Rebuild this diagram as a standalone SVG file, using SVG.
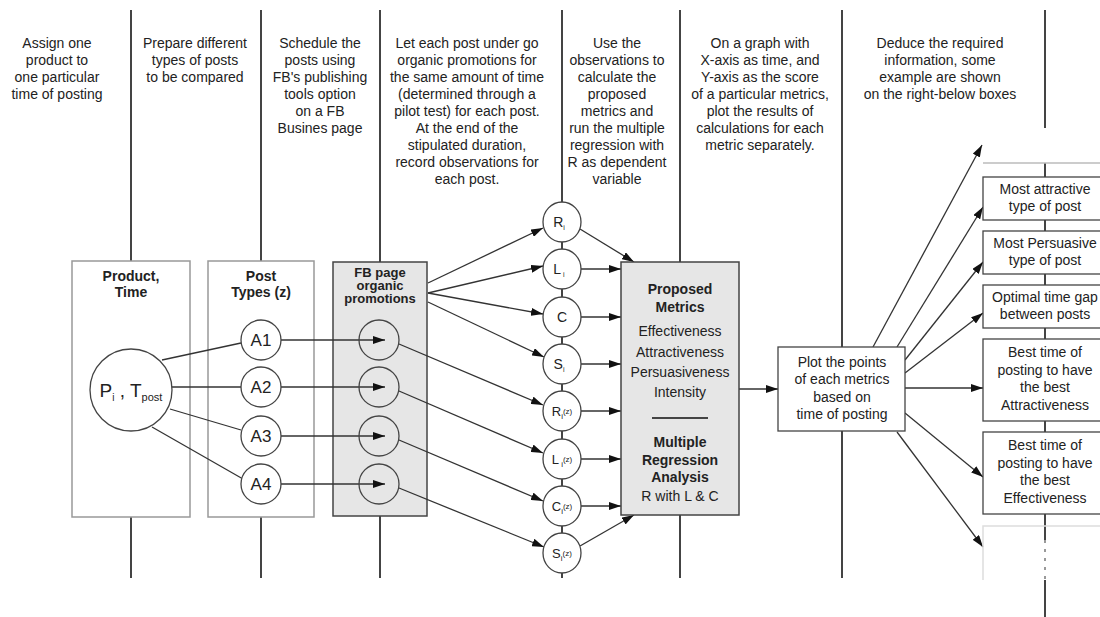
<svg xmlns="http://www.w3.org/2000/svg" width="1100" height="617" viewBox="0 0 1100 617">
<defs>
<marker id="ah" viewBox="0 0 12 8" refX="12" refY="4" markerWidth="12" markerHeight="8" markerUnits="userSpaceOnUse" orient="auto">
<path d="M0,0 L12,4 L0,8 Z" fill="#111"/>
</marker>
<style>
text{font-family:"Liberation Sans",Arial,sans-serif;fill:#222;}
.d{font-size:14px;text-anchor:middle;}
.b{font-size:14px;font-weight:bold;text-anchor:middle;}
.fb{font-size:13px;font-weight:bold;text-anchor:middle;}
.m{font-size:14px;text-anchor:middle;}
.col{stroke:#444;stroke-width:2;fill:none;}
.c{stroke:#333;stroke-width:1.3;fill:none;}
.a{stroke:#333;stroke-width:1.3;fill:none;marker-end:url(#ah);}
.circ{fill:#fff;stroke:#444;stroke-width:1.3;}
.gbox{fill:#e6e6e6;stroke:#444;stroke-width:1.5;}
.lbox{fill:#fff;stroke:#999;stroke-width:1.5;}
.wbox{fill:#fff;stroke:#444;stroke-width:1.3;}
.cl{font-size:14px;text-anchor:middle;}
.al{font-size:17px;text-anchor:middle;}
</style>
</defs>
<rect width="1100" height="617" fill="#fff"/>

<g id="columns">
<line class="col" x1="131" y1="10" x2="131" y2="261"/>
<line class="col" x1="131" y1="517" x2="131" y2="578"/>
<line class="col" x1="261" y1="10" x2="261" y2="261"/>
<line class="col" x1="261" y1="517" x2="261" y2="578"/>
<line class="col" x1="380" y1="10" x2="380" y2="262"/>
<line class="col" x1="380" y1="516" x2="380" y2="578"/>
<line class="col" x1="562" y1="10" x2="562" y2="578"/>
<line class="col" x1="680" y1="10" x2="680" y2="262"/>
<line class="col" x1="680" y1="515" x2="680" y2="578"/>
<line class="col" x1="842" y1="10" x2="842" y2="347"/>
<line class="col" x1="842" y1="431" x2="842" y2="578"/>
<line class="col" x1="1045" y1="10" x2="1045" y2="128"/>
<line class="col" x1="1045" y1="163" x2="1045" y2="540"/>
<line stroke="#999" stroke-width="2" stroke-dasharray="3,6" x1="1045" y1="540" x2="1045" y2="580"/>
<line class="col" x1="1045" y1="580" x2="1045" y2="617"/>
<line stroke="#bbb" stroke-width="1.5" x1="983" y1="163" x2="1100" y2="163"/>
</g>

<g id="step-texts">
<text class="d" x="57" y="48">Assign one</text>
<text class="d" x="57" y="65">product to</text>
<text class="d" x="57" y="82">one particular</text>
<text class="d" x="57" y="99">time of posting</text>

<text class="d" x="195" y="48">Prepare different</text>
<text class="d" x="195" y="65">types of posts</text>
<text class="d" x="195" y="82">to be compared</text>

<text class="d" x="320" y="48">Schedule the</text>
<text class="d" x="320" y="65">posts using</text>
<text class="d" x="320" y="82">FB's publishing</text>
<text class="d" x="320" y="99">tools option</text>
<text class="d" x="320" y="116">on a FB</text>
<text class="d" x="320" y="133">Busines page</text>

<text class="d" x="467" y="48">Let each post under go</text>
<text class="d" x="467" y="65">organic promotions for</text>
<text class="d" x="467" y="82">the same amount of time</text>
<text class="d" x="467" y="99">(determined through a</text>
<text class="d" x="467" y="116">pilot test) for each post.</text>
<text class="d" x="467" y="133">At the end of the</text>
<text class="d" x="467" y="150">stipulated duration,</text>
<text class="d" x="467" y="167">record observations for</text>
<text class="d" x="467" y="184">each post.</text>

<text class="d" x="617" y="48">Use the</text>
<text class="d" x="617" y="65">observations to</text>
<text class="d" x="617" y="82">calculate the</text>
<text class="d" x="617" y="99">proposed</text>
<text class="d" x="617" y="116">metrics and</text>
<text class="d" x="617" y="133">run the multiple</text>
<text class="d" x="617" y="150">regression with</text>
<text class="d" x="617" y="167">R as dependent</text>
<text class="d" x="617" y="184">variable</text>

<text class="d" x="760" y="48">On a graph with</text>
<text class="d" x="760" y="65">X-axis as time, and</text>
<text class="d" x="760" y="82">Y-axis as the score</text>
<text class="d" x="760" y="99">of a particular metrics,</text>
<text class="d" x="760" y="116">plot the results of</text>
<text class="d" x="760" y="133">calculations for each</text>
<text class="d" x="760" y="150">metric separately.</text>

<text class="d" x="940" y="48">Deduce the required</text>
<text class="d" x="940" y="65">information, some</text>
<text class="d" x="940" y="82">example are shown</text>
<text class="d" x="940" y="99">on the right-below boxes</text>
</g>

<g id="product-box">
<rect class="lbox" x="72" y="261" width="118" height="256"/>
<text class="b" x="131" y="281">Product,</text>
<text class="b" x="131" y="297">Time</text>
</g>
<g id="posttypes-box">
<rect class="lbox" x="208" y="261" width="106" height="256"/>
<text class="b" x="261" y="281">Post</text>
<text class="b" x="261" y="297">Types (z)</text>
</g>
<g id="fb-box">
<rect class="gbox" x="333" y="262" width="94" height="254"/>
<text class="fb" x="380" y="277">FB page</text>
<text class="fb" x="380" y="290">organic</text>
<text class="fb" x="380" y="303">promotions</text>
</g>

<g id="connectors">
<line class="c" x1="162" y1="360" x2="241" y2="343"/>
<line class="c" x1="172" y1="387" x2="241" y2="387"/>
<line class="c" x1="170" y1="409" x2="241" y2="430"/>
<line class="c" x1="152" y1="427" x2="243" y2="479"/>
<line class="a" x1="281" y1="340" x2="385" y2="340"/>
<line class="a" x1="281" y1="387" x2="385" y2="387"/>
<line class="a" x1="281" y1="436" x2="385" y2="436"/>
<line class="a" x1="281" y1="484" x2="385" y2="484"/>
<line class="a" x1="428" y1="283" x2="543" y2="228"/>
<line class="a" x1="428" y1="293" x2="543" y2="266"/>
<line class="a" x1="428" y1="293" x2="543" y2="314"/>
<line class="a" x1="428" y1="302" x2="544" y2="357"/>
<line class="a" x1="399" y1="344" x2="543" y2="405"/>
<line class="a" x1="399" y1="391" x2="543" y2="453"/>
<line class="a" x1="399" y1="440" x2="543" y2="501"/>
<line class="a" x1="399" y1="488" x2="544" y2="547"/>
<line class="a" x1="580" y1="229" x2="634" y2="262"/>
<line class="a" x1="581" y1="269" x2="621" y2="269"/>
<line class="a" x1="581" y1="317" x2="621" y2="317"/>
<line class="a" x1="581" y1="364" x2="621" y2="364"/>
<line class="a" x1="581" y1="411" x2="621" y2="411"/>
<line class="a" x1="581" y1="459" x2="621" y2="459"/>
<line class="a" x1="581" y1="506" x2="621" y2="506"/>
<line class="a" x1="580" y1="546" x2="634" y2="515"/>
<line class="a" x1="739" y1="389" x2="778" y2="389"/>
<line class="a" x1="873" y1="347" x2="982" y2="145"/>
<line class="a" x1="897" y1="347" x2="983" y2="207"/>
<line class="a" x1="905" y1="360" x2="983" y2="262"/>
<line class="a" x1="905" y1="373" x2="983" y2="313"/>
<line class="a" x1="905" y1="388" x2="983" y2="388"/>
<line class="a" x1="905" y1="413" x2="983" y2="477"/>
<line class="a" x1="897" y1="432" x2="983" y2="547"/>
</g>

<g id="node-P">
<circle class="circ" cx="131" cy="390" r="41"/>
<text x="131" y="397" text-anchor="middle" font-size="19">P<tspan font-size="10" dy="4">i</tspan><tspan dy="-4"> , T</tspan><tspan font-size="11" dy="4">post</tspan></text>
</g>
<g id="node-A1"><circle class="circ" cx="261" cy="340" r="20"/><text class="al" x="261" y="346">A1</text></g>
<g id="node-A2"><circle class="circ" cx="261" cy="387" r="20"/><text class="al" x="261" y="393">A2</text></g>
<g id="node-A3"><circle class="circ" cx="261" cy="436" r="20"/><text class="al" x="261" y="442">A3</text></g>
<g id="node-A4"><circle class="circ" cx="261" cy="484" r="20"/><text class="al" x="261" y="490">A4</text></g>

<g id="node-F1"><circle class="circ" cx="379" cy="340" r="20" fill-opacity="0"/></g>
<g id="node-F2"><circle class="circ" cx="379" cy="387" r="20" fill-opacity="0"/></g>
<g id="node-F3"><circle class="circ" cx="379" cy="436" r="20" fill-opacity="0"/></g>
<g id="node-F4"><circle class="circ" cx="379" cy="484" r="20" fill-opacity="0"/></g>

<g id="node-R"><ellipse class="circ" cx="562" cy="222" rx="19" ry="20"/><text class="cl" x="559" y="227">R<tspan font-size="7" dy="3">i</tspan></text></g>
<g id="node-L"><ellipse class="circ" cx="562" cy="269" rx="19" ry="20"/><text class="cl" x="559" y="274">L<tspan font-size="7" dy="3"> i</tspan></text></g>
<g id="node-C"><ellipse class="circ" cx="562" cy="317" rx="19" ry="20"/><text class="cl" x="562" y="322">C</text></g>
<g id="node-S"><ellipse class="circ" cx="562" cy="364" rx="19" ry="20"/><text class="cl" x="559" y="369">S<tspan font-size="7" dy="3">i</tspan></text></g>
<g id="node-Rz"><ellipse class="circ" cx="562" cy="411" rx="19" ry="20"/><text x="562" y="416" text-anchor="middle" font-size="13">R<tspan font-size="8" dy="3">i</tspan><tspan font-size="8" dy="-5">(z)</tspan></text></g>
<g id="node-Lz"><ellipse class="circ" cx="562" cy="459" rx="19" ry="20"/><text x="562" y="464" text-anchor="middle" font-size="13">L<tspan font-size="8" dy="3"> i</tspan><tspan font-size="8" dy="-5">(z)</tspan></text></g>
<g id="node-Cz"><ellipse class="circ" cx="562" cy="506" rx="19" ry="20"/><text x="562" y="511" text-anchor="middle" font-size="13">C<tspan font-size="8" dy="3">i</tspan><tspan font-size="8" dy="-5">(z)</tspan></text></g>
<g id="node-Sz"><ellipse class="circ" cx="562" cy="553" rx="19" ry="20"/><text x="562" y="558" text-anchor="middle" font-size="13">S<tspan font-size="8" dy="3">i</tspan><tspan font-size="8" dy="-5">(z)</tspan></text></g>

<g id="metrics-box">
<rect class="gbox" x="621" y="262" width="118" height="253"/>
<text class="b" x="680" y="294">Proposed</text>
<text class="b" x="680" y="312">Metrics</text>
<text class="m" x="680" y="336">Effectiveness</text>
<text class="m" x="680" y="357">Attractiveness</text>
<text class="m" x="680" y="377">Persuasiveness</text>
<text class="m" x="680" y="397">Intensity</text>
<line x1="652" y1="418" x2="708" y2="418" stroke="#444" stroke-width="2"/>
<text class="b" x="680" y="447">Multiple</text>
<text class="b" x="680" y="465">Regression</text>
<text class="b" x="680" y="482">Analysis</text>
<text class="m" x="680" y="501">R with L &amp; C</text>
</g>

<g id="plot-box">
<rect class="wbox" x="778" y="347" width="127" height="84"/>
<text class="m" x="842" y="367">Plot the points</text>
<text class="m" x="842" y="384">of each metrics</text>
<text class="m" x="842" y="402">based on</text>
<text class="m" x="842" y="419">time of posting</text>
</g>

<g id="out-1">
<rect class="wbox" x="983" y="177" width="124" height="43"/>
<text class="m" x="1045" y="194">Most attractive</text>
<text class="m" x="1045" y="211">type of post</text>
</g>
<g id="out-2">
<rect class="wbox" x="983" y="231" width="124" height="43"/>
<text class="m" x="1045" y="248">Most Persuasive</text>
<text class="m" x="1045" y="265">type of post</text>
</g>
<g id="out-3">
<rect class="wbox" x="983" y="285" width="124" height="43"/>
<text class="m" x="1045" y="302">Optimal time gap</text>
<text class="m" x="1045" y="319">between posts</text>
</g>
<g id="out-4">
<rect class="wbox" x="983" y="339" width="124" height="82"/>
<text class="m" x="1045" y="357">Best time of</text>
<text class="m" x="1045" y="375">posting to have</text>
<text class="m" x="1045" y="392">the best</text>
<text class="m" x="1045" y="410">Attractiveness</text>
</g>
<g id="out-5">
<rect class="wbox" x="983" y="432" width="124" height="82"/>
<text class="m" x="1045" y="450">Best time of</text>
<text class="m" x="1045" y="468">posting to have</text>
<text class="m" x="1045" y="485">the best</text>
<text class="m" x="1045" y="503">Effectiveness</text>
</g>
<g id="out-6">
<path d="M983,580 L983,526 L1100,526" fill="none" stroke="#ddd" stroke-width="1.5"/>
</g>
</svg>
